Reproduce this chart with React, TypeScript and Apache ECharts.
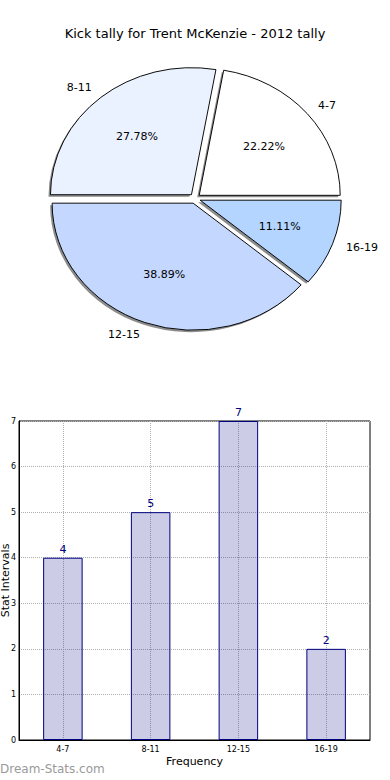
import React, { useEffect, useRef } from 'react';
import * as echarts from 'echarts';

const categories = ['4-7', '8-11', '12-15', '16-19'];
const counts = [4, 5, 7, 2];
const sliceColors = ['#ffffff', '#eaf1ff', '#c4d8ff', '#b4d5ff'];
const titleText = 'Kick tally for Trent McKenzie - 2012 tally';
const xAxisName = 'Frequency';
const yAxisName = 'Stat Intervals';
const watermark = 'Dream-Stats.com';

const PIE_CX = 195;
const PIE_CY = 198.5;
const PIE_RX = 141;
const PIE_RY = 127;
const EXPLODE = 5.5;
const FONT = '"DejaVu Sans", Verdana, sans-serif';

export default function App() {
  const ref = useRef<HTMLDivElement>(null);
  useEffect(() => {
    const chart = echarts.init(ref.current!, null, { renderer: 'svg' });
    const total = counts.reduce((a, b) => a + b, 0);
    const starts: number[] = [];
    let acc = 0;
    counts.forEach((v) => {
      starts.push(acc);
      acc += v;
    });
    const sy = PIE_RY / PIE_RX;

    const renderItem = (params: any, api: any) => {
      const i = params.dataIndex;
      const v = api.value(1);
      const a1 = (starts[i] / total) * 2 * Math.PI;
      const a2 = ((starts[i] + v) / total) * 2 * Math.PI;
      const mid = (a1 + a2) / 2;
      const ox = EXPLODE * Math.cos(mid);
      const oy = -EXPLODE * Math.sin(mid);
      const scx = PIE_CX + ox;
      const scy = PIE_CY + oy * sy;
      const lx = scx + 1.1 * PIE_RX * Math.cos(mid);
      const ly = scy - 1.1 * PIE_RY * Math.sin(mid);
      const px = scx + 0.6 * PIE_RX * Math.cos(mid);
      const py = scy - 0.6 * PIE_RY * Math.sin(mid);
      const pct = ((v / total) * 100).toFixed(2) + '%';
      return {
        type: 'group',
        children: [
          {
            type: 'group',
            x: PIE_CX,
            y: PIE_CY,
            scaleY: sy,
            children: [
              {
                type: 'sector',
                z2: 1,
                shape: { cx: ox - 2, cy: oy + 2 / sy, r: PIE_RX, r0: 0, startAngle: -a2, endAngle: -a1, clockwise: true },
                style: { fill: '#8c8c8c' },
              },
              {
                type: 'sector',
                z2: 5,
                shape: { cx: ox, cy: oy, r: PIE_RX, r0: 0, startAngle: -a2, endAngle: -a1, clockwise: true },
                style: { fill: sliceColors[i], stroke: '#000', lineWidth: 1, strokeNoScale: true },
              },
            ],
          },
          {
            type: 'text',
            z2: 10,
            x: lx,
            y: ly,
            style: {
              text: categories[i],
              fill: '#000',
              font: `11px ${FONT}`,
              align: Math.cos(mid) < 0 ? 'right' : 'left',
              verticalAlign: 'middle',
            },
          },
          {
            type: 'text',
            z2: 10,
            x: px,
            y: py,
            style: { text: pct, fill: '#000', font: `11px ${FONT}`, align: 'center', verticalAlign: 'middle' },
          },
        ],
      };
    };

    chart.setOption({
      animation: false,
      backgroundColor: '#fff',
      textStyle: { fontFamily: FONT },
      title: {
        text: titleText,
        left: 'center',
        top: 22,
        textStyle: { fontSize: 13, fontWeight: 'normal', color: '#000', fontFamily: FONT },
      },
      grid: {
        left: 19,
        top: 421,
        width: 351,
        height: 319,
        containLabel: false,
        outerBoundsMode: 'none',
        show: true,
        borderColor: '#000',
        borderWidth: 1,
        backgroundColor: 'transparent',
      },
      xAxis: {
        type: 'category',
        data: categories,
        axisLine: { lineStyle: { color: '#000', width: 1 } },
        axisTick: { show: false },
        axisLabel: { fontSize: 8, color: '#000', margin: 5, fontFamily: FONT },
        splitLine: { show: true, alignWithLabel: true, lineStyle: { color: '#b0b0b0', type: 'dotted', width: 1 } },
        name: xAxisName,
        nameLocation: 'middle',
        nameGap: 16,
        nameTextStyle: { fontSize: 11, color: '#000', fontFamily: FONT },
      },
      yAxis: {
        type: 'value',
        min: 0,
        max: 7,
        interval: 1,
        axisLine: { show: true, lineStyle: { color: '#000', width: 1 } },
        axisTick: { show: false },
        axisLabel: { fontSize: 8, color: '#000', margin: 3, fontFamily: FONT },
        splitLine: { show: true, lineStyle: { color: '#b0b0b0', type: 'dotted', width: 1 } },
      },
      graphic: [
        {
          type: 'text',
          x: 5,
          y: 580.5,
          rotation: Math.PI / 2,
          style: { text: yAxisName, fill: '#000', font: `11px ${FONT}`, align: 'center', verticalAlign: 'middle' },
        },
        {
          type: 'text',
          left: 0,
          top: 763,
          style: { text: watermark, fill: '#9a9a9a', font: `12px ${FONT}` },
        },
      ],
      series: [
        {
          type: 'custom',
          coordinateSystem: 'none',
          renderItem,
          data: counts.map((v, i) => [i, v]),
        },
        {
          type: 'bar',
          data: counts,
          barWidth: 39.5,
          itemStyle: { color: 'rgba(0,0,128,0.2)', borderColor: '#000080', borderWidth: 1 },
          label: { show: true, position: 'top', color: '#000080', fontSize: 11, distance: 3, fontFamily: FONT },
        },
      ],
    });
    return () => chart.dispose();
  }, []);
  return <div ref={ref} style={{ position: 'absolute', left: 0, top: 0, width: 390, height: 780 }} />;
}
